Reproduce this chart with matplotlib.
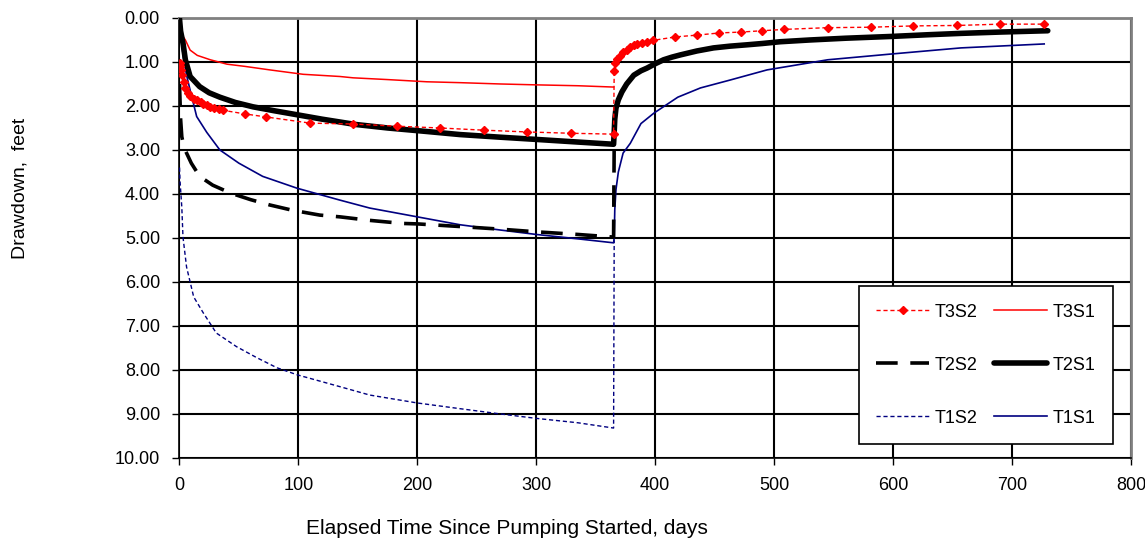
import numpy as np
import matplotlib.pyplot as plt

plt.rcParams['font.family'] = ['Liberation Sans', 'DejaVu Sans']

# T3S2 - merah putus-putus dengan marker
t_t3s2 = [0.3, 0.7, 1.2, 2, 3.5, 5, 7, 9, 12, 15, 18, 20, 23, 26, 29, 33, 37, 55, 73, 110, 146, 183, 219,
          256, 292, 329, 365, 365.5, 366.5, 368, 370, 373, 376, 379, 382, 385, 389, 393, 398, 417, 435,
          454, 472, 490, 508, 545, 581, 617, 654, 690, 727]
d_t3s2 = [1.03, 1.1, 1.18, 1.3, 1.45, 1.6, 1.7, 1.78, 1.83, 1.87, 1.91, 1.95, 1.98, 2.02, 2.04, 2.07, 2.1,
          2.18, 2.25, 2.39, 2.41, 2.46, 2.5, 2.55, 2.59, 2.62, 2.64, 1.2, 1.02, 0.93, 0.86, 0.78, 0.72,
          0.66, 0.62, 0.59, 0.56, 0.54, 0.51, 0.43, 0.39, 0.34, 0.32, 0.29, 0.26, 0.22, 0.21, 0.18, 0.17,
          0.14, 0.14]

# T3S1 - merah tipis
t_t3s1 = [2, 3, 5, 9, 15, 26, 40, 55, 76, 104, 135, 146, 175, 208, 236, 270, 300, 335, 365]
d_t3s1 = [0.38, 0.42, 0.5, 0.73, 0.85, 0.95, 1.05, 1.1, 1.18, 1.28, 1.33, 1.36, 1.4, 1.45, 1.47, 1.5,
          1.52, 1.54, 1.57]

# T2S2 - hitam putus-putus
t_t2s2 = [0.1, 0.3, 1, 2, 4, 6, 10, 17, 28, 43, 60, 76, 95, 118, 135, 160, 188, 200, 236, 270, 300, 335,
          365, 365.5]
d_t2s2 = [1.5, 1.7, 2.3, 2.7, 2.95, 3.07, 3.3, 3.6, 3.8, 3.98, 4.13, 4.25, 4.37, 4.48, 4.52, 4.6, 4.67,
          4.68, 4.74, 4.8, 4.86, 4.92, 4.98, 2.87]

# T2S1 - hitam tebal
t_t2s1 = [0, 1, 3, 5, 9, 17, 25, 34, 47, 62, 80, 99, 120, 148, 175, 208, 236, 270, 300, 335, 365, 365.5,
          366, 367, 369, 372, 376, 382, 388, 393, 400, 407, 414, 421, 435, 449, 463, 477, 490, 505, 530,
          560, 598, 630, 657, 690, 730]
d_t2s1 = [0.0, 0.3, 0.57, 0.95, 1.33, 1.56, 1.7, 1.8, 1.92, 2.02, 2.11, 2.2, 2.3, 2.42, 2.5, 2.58, 2.65,
          2.71, 2.76, 2.82, 2.87, 2.6, 2.3, 2.05, 1.86, 1.68, 1.5, 1.3, 1.2, 1.14, 1.04, 0.95, 0.89, 0.84,
          0.75, 0.68, 0.64, 0.61, 0.58, 0.54, 0.5, 0.46, 0.42, 0.38, 0.35, 0.32, 0.29]

# T1S2 - biru titik-titik
t_t1s2 = [0.1, 0.5, 1, 2, 3, 6, 12, 20, 31, 48, 65, 82, 99, 135, 160, 200, 236, 270, 300, 335, 365, 365.5]
d_t1s2 = [3.4, 3.7, 3.9, 4.3, 4.98, 5.66, 6.34, 6.7, 7.16, 7.47, 7.72, 7.95, 8.11, 8.38, 8.57, 8.75, 8.88,
          9.0, 9.1, 9.2, 9.32, 5.05]

# T1S1 - biru tipis
t_t1s1 = [0, 1, 3.3, 6, 9, 14.5, 23, 34, 50, 70, 99, 135, 160, 200, 236, 270, 300, 335, 365, 365.5, 366,
          367, 369, 373, 379, 388, 399, 419, 438, 463, 494, 545, 598, 657, 727]
d_t1s1 = [0.0, 0.4, 0.88, 1.3, 1.64, 2.24, 2.6, 3.0, 3.3, 3.6, 3.87, 4.14, 4.32, 4.52, 4.7, 4.82, 4.92,
          5.02, 5.11, 5.0, 4.36, 3.9, 3.5, 3.07, 2.85, 2.4, 2.16, 1.8, 1.59, 1.41, 1.18, 0.95, 0.82, 0.68,
          0.59]

x_ticks = [0, 100, 200, 300, 400, 500, 600, 700, 800]
y_ticks = [0, 1, 2, 3, 4, 5, 6, 7, 8, 9, 10]

fig = plt.figure(figsize=(11.45, 5.40), dpi=100)
ax = fig.add_axes([0.1567, 0.1519, 0.8311, 0.8148])

red = '#FF0000'
navy = '#000080'

l1, = ax.plot(t_t3s2, d_t3s2, color=red, lw=1, dashes=(3, 2), marker='D', ms=4.5,
              markerfacecolor=red, markeredgecolor=red, label='T3S2', zorder=5)
l4, = ax.plot(t_t3s1, d_t3s1, color=red, lw=1.1, label='T3S1', zorder=4)
l2, = ax.plot(t_t2s2, d_t2s2, color='black', lw=2.6, dashes=(6, 3.5), label='T2S2', zorder=4)
l5, = ax.plot(t_t2s1, d_t2s1, color='black', lw=4, label='T2S1', zorder=4, solid_capstyle='round')
l3, = ax.plot(t_t1s2, d_t1s2, color=navy, lw=1, dashes=(3, 2), label='T1S2', zorder=3)
l6, = ax.plot(t_t1s1, d_t1s1, color=navy, lw=1.2, label='T1S1', zorder=3)

ax.set_xlim(0, 800)
ax.set_ylim(10, 0)
ax.set_xticks(x_ticks)
ax.set_yticks(y_ticks)
ax.set_yticklabels(['%.2f' % v for v in y_ticks])
ax.tick_params(labelsize=13, direction='out', length=5, width=1, color='black')
ax.tick_params(axis='x', pad=9)
ax.tick_params(axis='y', pad=9)
ax.grid(True, color='black', lw=1.5)
ax.set_axisbelow(True)

for s in ['left', 'bottom']:
    ax.spines[s].set_color('black')
    ax.spines[s].set_linewidth(1.2)
for s in ['top', 'right']:
    ax.spines[s].set_color('#808080')
    ax.spines[s].set_linewidth(2)

leg = ax.legend(handles=[l1, l2, l3, l4, l5, l6], ncol=2, loc='lower right',
                bbox_to_anchor=(0.981, 0.032), fontsize=13, fancybox=False, framealpha=1,
                edgecolor='black', handlelength=2.9, handletextpad=0.35, columnspacing=0.9,
                labelspacing=2.0, borderpad=0.95, borderaxespad=0)
leg.get_frame().set_linewidth(1.2)

fig.text(0.0175, 0.652, 'Drawdown,  feet', rotation=90, ha='center', va='center', fontsize=14)
fig.text(0.443, 0.021, 'Elapsed Time Since Pumping Started, days', ha='center', va='center', fontsize=15)

fig.savefig('out.png', dpi=100)
